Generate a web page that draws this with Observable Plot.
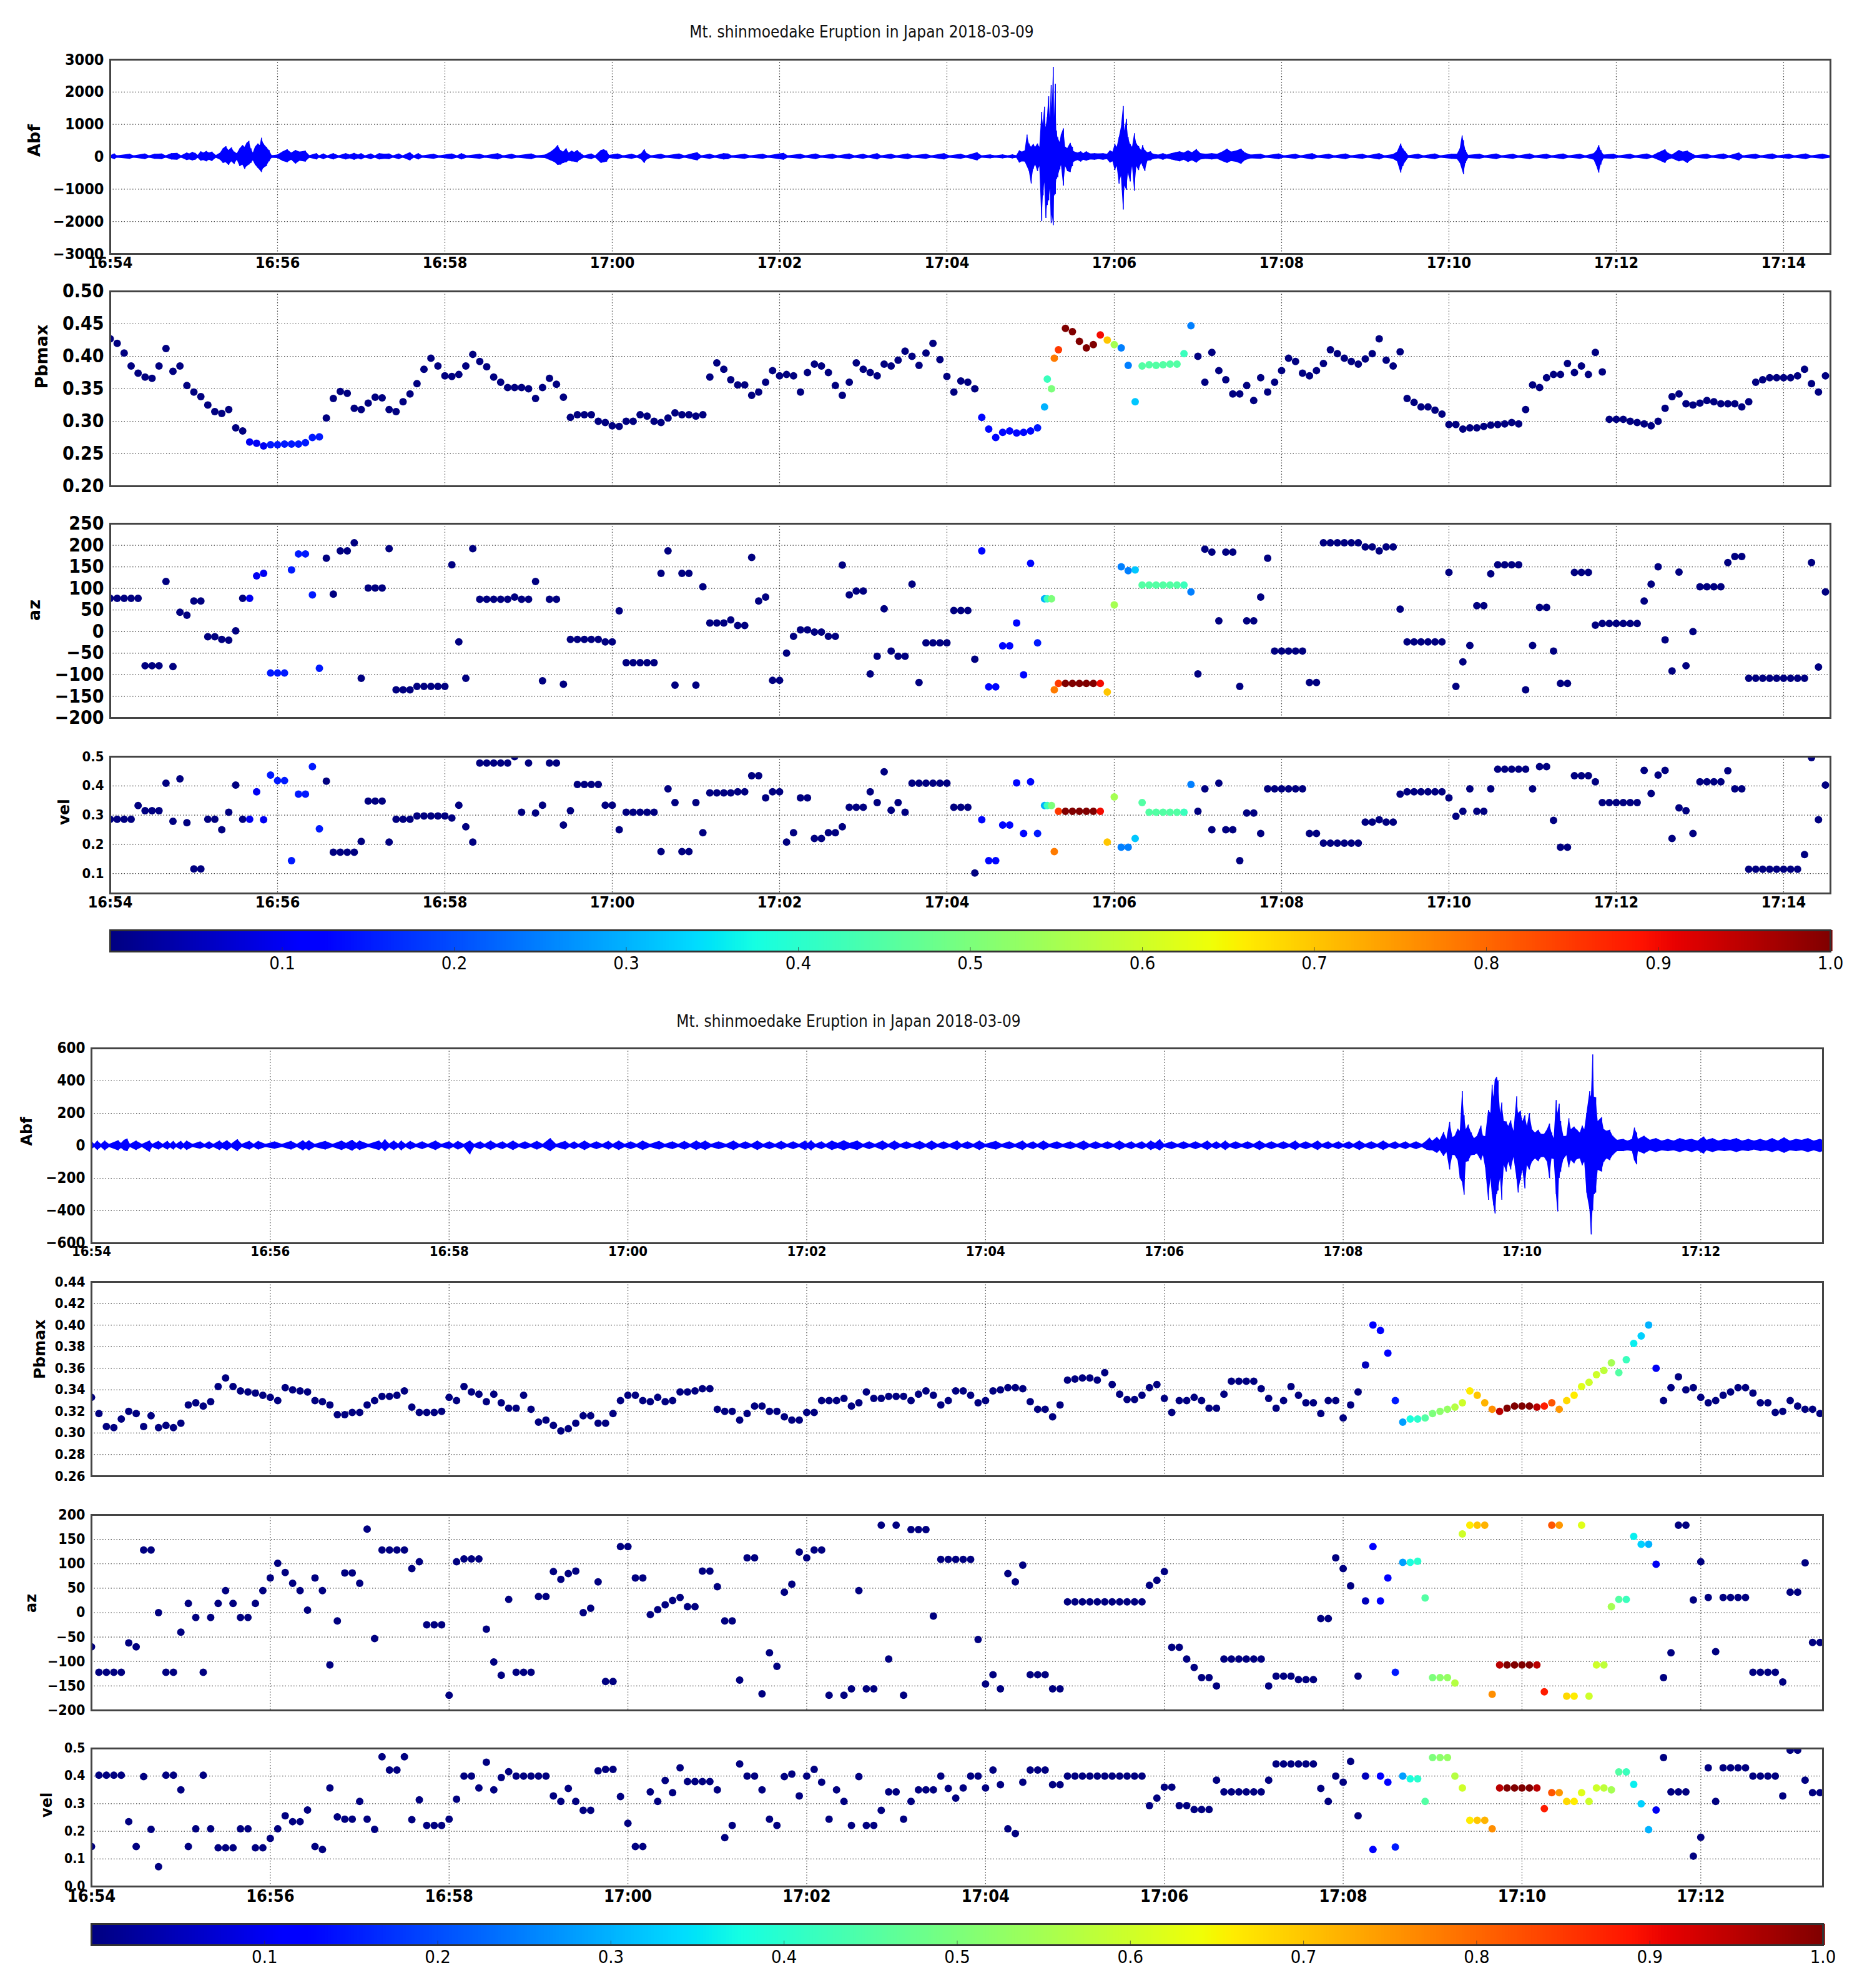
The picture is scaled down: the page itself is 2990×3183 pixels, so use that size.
<!DOCTYPE html>
<html><head><meta charset="utf-8">
<script src="https://cdn.jsdelivr.net/npm/d3@7"></script>
<script src="https://cdn.jsdelivr.net/npm/@observablehq/plot@0.6"></script>
<style>
body{margin:0;background:#fff;}
#chart{position:relative;width:2990px;height:3183px;background:#fff;overflow:hidden;}
.box{position:absolute;}
.title{position:absolute;transform:translate(-50%,-50%);font-family:"DejaVu Sans Condensed","DejaVu Sans",sans-serif;font-size:26px;color:#111;white-space:nowrap;}
</style></head>
<body><div id="chart"></div>
<script>
// ---------------- DATA ----------------
// time origin 16:54:00, samples every 5 s
const STEP = 5;
const title = "Mt. shinmoedake Eruption in Japan 2018-03-09";

// ---- figure 1 (top) ----
const pbTop = [
.427,.42,.405,.385,.374,.368,.366,.385,.412,.377,.385,.355,
.345,.338,.325,.315,.312,.318,.29,.285,.268,.266,.262,.264,
.264,.265,.265,.265,.267,.275,.276,.305,.335,.346,.343,.32,
.318,.328,.337,.336,.318,.315,.33,.342,.358,.38,.397,.385,
.37,.369,.372,.385,.403,.392,.384,.368,.36,.352,.352,.352,
.35,.335,.352,.366,.357,.337,.306,.31,.31,.31,.30,.298,
.293,.292,.30,.30,.31,.308,.30,.298,.305,.313,.31,.31,
.308,.31,.368,.39,.38,.364,.356,.356,.34,.345,.36,.378,
.37,.372,.37,.345,.375,.388,.385,.375,.355,.34,.36,.39,
.38,.375,.37,.388,.385,.394,.408,.40,.386,.405,.42,.395,
.369,.345,.362,.36,.35,.306,.288,.275,.283,.285,.282,.283,
.285,.29,.322,.35,.41,.443,.438,.423,.413,.418,.433,.425,
.418,.413,.386,.33,.385,.387,.386,.387,.388,.388,.404,.447,
.40,.36,.406,.378,.364,.342,.342,.355,.332,.367,.345,.36,
.378,.397,.392,.374,.37,.378,.389,.41,.404,.397,.392,.388,
.396,.404,.427,.394,.385,.407,.335,.329,.322,.322,.317,.311,
.295,.295,.288,.29,.29,.292,.294,.295,.296,.298,.296,.318,
.356,.352,.367,.372,.372,.389,.375,.385,.372,.406,.376,.303,
.303,.303,.30,.298,.296,.293,.30,.32,.338,.342,.327,.325,
.328,.332,.33,.327,.327,.327,.322,.33,.36,.364,.367,.367,
.367,.367,.37,.38,.358,.345,.37];
const azTop = [
77,77,77,77,77,-79,-79,-79,116,-81,45,38,
71,71,-12,-12,-18,-20,2,77,77,129,135,-96,
-96,-96,143,180,180,85,-85,170,87,187,187,206,
-108,101,101,101,192,-135,-135,-135,-127,-127,-127,-127,
-127,155,-24,-108,192,75,75,75,75,75,80,75,
75,116,-114,75,75,-122,-18,-18,-18,-18,-18,-24,
-24,48,-72,-72,-72,-72,-72,135,187,-124,135,135,
-124,104,20,20,20,27,14,14,172,71,80,-113,
-113,-50,-11,4,4,-1,-1,-11,-11,154,85,94,
94,-98,-57,53,-45,-57,-57,110,-118,-26,-26,-26,
-26,49,49,49,-64,187,-128,-128,-33,-33,20,-100,
158,-26,76,76,-120,-120,-120,-120,-120,-120,-120,-140,
62,150,141,143,108,108,108,108,108,108,108,92,
-98,191,184,25,184,184,-127,25,25,80,170,-45,
-45,-45,-45,-45,-118,-118,206,206,206,206,206,206,
196,196,187,196,196,52,-24,-24,-24,-24,-24,-24,
137,-127,-70,-32,60,60,134,155,155,155,155,-135,
-32,56,56,-45,-120,-120,137,137,137,15,19,19,
19,19,19,19,71,110,150,-19,-91,138,-79,0,
104,104,104,104,160,174,174,-108,-108,-108,-108,-108,
-108,-108,-108,-108,160,-82,92];
const velTop = [
.286,.286,.286,.286,.333,.315,.315,.315,.409,.279,.424,.274,
.116,.116,.286,.286,.25,.31,.403,.286,.286,.38,.284,.437,
.418,.418,.144,.372,.372,.466,.253,.416,.173,.173,.173,.173,
.21,.348,.348,.348,.208,.286,.286,.286,.297,.297,.297,.297,
.297,.29,.334,.26,.208,.478,.478,.478,.478,.478,.5,.31,
.478,.307,.334,.478,.478,.266,.315,.405,.405,.405,.405,.334,
.334,.25,.31,.31,.31,.31,.31,.175,.39,.343,.175,.175,
.343,.24,.376,.376,.376,.376,.38,.38,.435,.435,.359,.38,
.38,.208,.24,.359,.359,.22,.22,.24,.24,.26,.327,.327,
.327,.38,.343,.448,.317,.343,.31,.409,.409,.409,.409,.409,
.409,.327,.327,.327,.102,.284,.144,.144,.266,.266,.41,.237,
.414,.237,.333,.333,.313,.313,.313,.313,.313,.313,.313,.208,
.362,.19,.19,.22,.343,.31,.31,.31,.31,.31,.31,.405,
.313,.39,.25,.409,.25,.25,.144,.307,.307,.237,.39,.39,
.39,.39,.39,.39,.237,.237,.204,.204,.204,.204,.204,.204,
.276,.276,.284,.276,.276,.372,.38,.38,.38,.38,.38,.38,
.359,.296,.313,.39,.313,.313,.39,.457,.457,.457,.457,.457,
.39,.466,.466,.282,.19,.19,.435,.435,.435,.414,.343,.343,
.343,.343,.343,.343,.453,.374,.437,.453,.22,.325,.315,.237,
.414,.414,.414,.414,.452,.39,.39,.115,.115,.115,.115,.115,
.115,.115,.115,.165,.497,.284,.403];
const cTop = [
0,0,0,0,0,0,0,0,0,0,0,0,
0,0,0,0,0,0,0,0,.1,.1,.1,.15,
.15,.15,.15,.15,.15,.15,.15,0,0,0,0,0,
0,0,0,0,0,0,0,0,0,0,0,0,
0,0,0,0,0,0,0,0,0,0,0,0,
0,0,0,0,0,0,0,0,0,0,0,0,
0,0,0,0,0,0,0,0,0,0,0,0,
0,0,0,0,0,0,0,0,0,0,0,0,
0,0,0,0,0,0,0,0,0,0,0,0,
0,0,0,0,0,0,0,0,0,0,0,0,
0,0,0,0,0,.13,.13,.13,.13,.13,.13,.13,
.13,.15,.3,.5,.85,1,1,1,1,1,.9,.7,
.55,.25,.25,.32,.45,.45,.45,.45,.45,.45,.42,.25,
0,0,0,0,0,0,0,0,0,0,0,0,
0,0,0,0,0,0,0,0,0,0,0,0,
0,0,0,0,0,0,0,0,0,0,0,0,
0,0,0,0,0,0,0,0,0,0,0,0,
0,0,0,0,0,0,0,0,0,0,0,0,
0,0,0,0,0,0,0,0,0,0,0,0,
0,0,0,0,0,0,0,0,0,0,0,0,
0,0,0,0,0,0,0];
// off-grid points (seconds after 16:54)
const exTTop = [672, 677];
const exPbTop = [.365, .397];
const exAzTop = [76, -135];
const exVelTop = [.333, .175];
const exCTop = [.42, .78];
// Abf envelope: [seconds, upper, lower]
const abfTop = [[0,35,-35],[3,90,-80],[5,35,-35],[14,80,-70],[17,35,-35],[25,90,-80],[28,35,-35],[32,80,-70],[37,90,-80],[40,35,-35],[44,100,-90],[48,110,-100],[51,35,-35],[55,120,-110],[57,90,-90],[59,140,-120],[61,110,-100],[63,50,-45],[65,160,-130],[67,120,-110],[69,170,-150],[71,120,-100],[73,150,-140],[76,45,-40],
[79,120,-100],[81,250,-200],[83,320,-180],[85,200,-260],[87,280,-150],[89,150,-230],[91,100,-100],[93,250,-300],[95,350,-250],[96.5,300,-386],[98,420,-300],[99.5,483,-250],[101,250,-200],[102.5,120,-120],[104,300,-250],[106,400,-350],[107.5,350,-420],[108.5,580,-483],[110,400,-350],[112,300,-300],[114,200,-150],[116,40,-40],
[120,60,-50],[124,160,-140],[127,220,-180],[130,120,-100],[133,200,-220],[136,150,-130],[140,180,-160],[143,40,-40],[148,100,-90],[150,35,-35],[153,90,-80],[156,35,-35],[160,100,-90],[164,35,-35],[169,100,-90],[172,60,-60],[175,110,-100],[178,60,-60],[180,100,-90],[183,35,-35],[187,90,-80],[190,35,-35],[193,100,-90],[197,80,-70],[200,90,-80],[203,35,-35],[207,90,-80],[210,35,-35],[215,130,-120],[218,35,-35],[221,100,-90],[224,35,-35],
[232,80,-70],[236,35,-35],[245,90,-80],[249,35,-35],[252,100,-90],[256,35,-35],[265,80,-70],[269,35,-35],[278,100,-90],[282,35,-35],[288,80,-70],[292,35,-35],[302,90,-80],[306,35,-35],
[312,60,-50],[316,150,-120],[319,250,-180],[321,350,-260],[323,200,-250],[325,150,-200],[327,250,-180],[329,120,-130],[331,180,-150],[333,140,-160],[335,200,-180],[337,120,-100],[340,35,-35],[345,90,-80],[348,35,-35],[352,200,-200],[354,220,-180],[356,180,-160],[358,50,-50],[364,90,-80],[368,35,-35],[374,80,-70],[378,35,-35],[381,100,-90],[383,220,-200],[385,100,-90],[388,35,-35],[395,80,-70],[399,35,-35],[408,90,-80],[412,35,-35],[418,100,-90],[421,130,-120],[424,35,-35],[430,80,-70],[434,35,-35],[440,100,-90],[443,90,-80],[446,35,-35],[455,80,-70],[459,35,-35],[468,80,-70],[472,35,-35],[480,90,-80],[483,110,-100],[486,35,-35],[495,80,-70],[499,35,-35],[506,90,-80],[510,35,-35],[518,80,-70],[522,35,-35],[530,90,-80],[534,35,-35],[540,80,-70],[544,35,-35],[550,100,-90],[553,35,-35],[560,80,-70],[564,35,-35],[572,90,-80],[576,35,-35],[585,80,-70],[589,35,-35],[598,100,-90],[602,35,-35],[610,80,-70],[614,35,-35],
[621.7,130,-120],[625,35,-35],[631,65,-60],[635,35,-35],[640,65,-60],[644,35,-35],[647,65,-60],[650,40,-40],[652,190,-190],[654,150,-150],[656,190,-160],[657.5,675,-300],[659,400,-450],[660.5,300,-835],[662,385,-385],[663.5,300,-250],[665,400,-450],[666.5,300,-300],[668,1380,-2000],[669,1000,-1200],[670,1540,-800],[671,900,-1900],[672,1220,-1500],[673,1860,-1350],[674,1200,-1000],[674.8,2210,-2060],[675.5,1500,-1800],[676.3,2770,-2120],[677,1200,-1200],[677.8,2250,-1160],[678.6,800,-700],[679.5,600,-640],[681,450,-400],[682,680,-260],[683.6,870,-900],[685,300,-300],[686.5,260,-450],[688.5,420,-480],[690,300,-300],[691,160,-160],[694,120,-110],[696,160,-160],[698,100,-100],[700,160,-130],[703,90,-90],[706,100,-100],[709,90,-80],[712,100,-100],[715,80,-80],[717,190,-190],[719,150,-150],[720.5,385,-420],[722,300,-300],[723.5,600,-840],[725,900,-600],[726.5,1560,-1640],[727.5,800,-900],[728.8,1160,-1030],[730,600,-500],[731.5,385,-770],[733,300,-300],[734.5,720,-1060],[736,400,-300],[737.5,320,-420],[739.5,200,-200],[740.5,355,-300],[742,200,-450],[744,130,-130],[746,160,-120],[748,80,-80],[752,60,-60],[755,100,-100],[758,60,-60],[761,100,-90],[764,130,-120],[767,160,-150],[770,120,-100],[773,190,-170],[776,130,-120],[779,225,-190],[782,100,-90],[786,80,-70],[790,100,-90],[794,80,-70],[798,160,-150],[801,240,-200],[804,150,-140],[808,190,-170],[811,240,-225],[814,120,-110],[818,60,-60],
[825,80,-70],[829,35,-35],[838,90,-80],[842,35,-35],[850,80,-70],[854,35,-35],[862,100,-90],[866,35,-35],[874,80,-70],[878,35,-35],[886,90,-80],[890,35,-35],[898,80,-70],[902,35,-35],[910,100,-90],[914,35,-35],[920,70,-70],[923,150,-150],[925.5,400,-500],[927,250,-300],[929,150,-150],[931,40,-40],[938,80,-70],[942,35,-35],[950,90,-80],[954,35,-35],[962,80,-70],[966,80,-80],[968,250,-200],[969.5,650,-400],[970.5,500,-550],[972,200,-200],[974,50,-50],[982,80,-70],[986,35,-35],[994,90,-80],[998,35,-35],[1006,80,-70],[1010,35,-35],[1018,90,-80],[1022,35,-35],[1030,80,-70],[1034,35,-35],[1042,90,-80],[1046,35,-35],[1054,80,-70],[1058,35,-35],[1064,100,-100],[1066,200,-300],[1067.5,350,-500],[1069,200,-250],[1071,60,-60],[1078,80,-70],[1082,35,-35],[1090,80,-70],[1094,35,-35],[1102,90,-80],[1106,35,-35],[1110,120,-100],[1113,180,-160],[1115,220,-200],[1117,120,-100],[1120,60,-60],[1125,200,-150],[1128,150,-120],[1131,180,-200],[1134,100,-100],[1137,40,-40],[1145,80,-70],[1149,35,-35],[1157,90,-80],[1161,35,-35],[1168,120,-120],[1171,35,-35],[1180,80,-70],[1184,35,-35],[1192,90,-80],[1196,35,-35],[1204,80,-70],[1208,35,-35],[1216,90,-80],[1220,35,-35],[1228,80,-70],[1233.6,35,-35]];

// ---- figure 2 (bottom) ----
const pbBot = [
.333,.318,.306,.305,.313,.32,.318,.306,.316,.305,.307,.305,
.309,.326,.328,.325,.329,.343,.351,.343,.339,.338,.337,.335,
.333,.33,.342,.34,.339,.338,.33,.329,.326,.317,.317,.319,
.319,.326,.33,.334,.334,.335,.339,.324,.319,.319,.319,.32,
.333,.33,.343,.338,.336,.329,.336,.328,.323,.323,.335,.322,
.31,.312,.307,.302,.304,.309,.316,.316,.309,.309,.318,.33,
.335,.335,.33,.329,.333,.329,.33,.338,.338,.339,.341,.341,
.322,.32,.32,.312,.318,.325,.325,.32,.32,.315,.312,.312,
.319,.319,.33,.33,.33,.332,.325,.328,.338,.332,.332,.334,
.334,.334,.33,.336,.339,.335,.326,.33,.339,.339,.335,.328,
.33,.339,.34,.342,.342,.341,.329,.322,.322,.315,.326,.349,
.35,.351,.351,.349,.356,.345,.336,.331,.331,.335,.342,.345,
.332,.319,.33,.33,.333,.33,.323,.323,.336,.348,.348,.348,
.348,.341,.332,.323,.33,.343,.335,.328,.328,.318,.33,.33,
.314,.326,.338,.363,.40,.395,.374,.33,.31,.313,.313,.314,
.318,.32,.322,.324,.328,.339,.335,.328,.322,.32,.323,.325,
.325,.325,.324,.325,.328,.322,.33,.335,.343,.347,.354,.358,
.365,.356,.368,.383,.39,.40,.36,.33,.342,.352,.34,.342,
.333,.328,.33,.335,.338,.342,.342,.337,.328,.328,.319,.32,
.33,.325,.322,.322,.318];
const azBot = [
-70,-122,-122,-122,-122,-62,-70,128,128,0,-122,-122,
-40,19,-10,-122,-10,19,45,19,-10,-10,19,45,
71,101,82,60,45,5,71,45,-107,-17,81,81,
60,171,-53,128,128,128,128,90,104,-25,-25,-25,
-169,104,110,110,110,-34,-101,-128,27,-122,-122,-122,
33,33,84,68,80,85,0,9,63,-141,-141,135,
135,71,71,-4,6,16,25,31,12,12,85,85,
53,-17,-17,-138,112,112,-166,-82,-110,42,58,124,
112,128,128,-169,null,-169,-156,45,-156,-156,179,-95,
179,-169,170,170,170,-7,109,109,109,109,109,-55,
-146,-127,-156,80,63,97,-127,-127,-127,-156,-156,22,
22,22,22,22,22,22,22,22,22,22,56,66,
84,-71,-71,-95,-112,-133,-133,-150,-95,-95,-95,-95,
-95,-95,-150,-130,-130,-130,-137,-137,-137,-12,-12,112,
90,55,-130,24,135,24,71,-122,103,103,105,30,
-133,-133,-133,-144,161,179,179,179,-167,-107,-107,-107,
-107,-107,-107,-162,179,179,-171,-171,179,-171,-107,-107,
12,27,27,156,140,140,99,-133,-82,179,179,26,
104,31,-80,31,31,31,31,-122,-122,-122,-122,-142,
42,42,102,-61,-61];
const velBot = [
.145,.403,.403,.403,.403,.235,.145,.398,.207,.072,.403,.403,
.35,.145,.209,.403,.209,.14,.14,.14,.209,.209,.14,.14,
.174,.209,.256,.235,.235,.277,.145,.134,.357,.252,.244,.244,
.308,.244,.207,.47,.422,.422,.47,.242,.314,.221,.221,.221,
.244,.316,.40,.40,.357,.45,.35,.395,.416,.40,.40,.40,
.40,.40,.328,.308,.355,.308,.276,.276,.419,.424,.424,.326,
.229,.145,.145,.343,.308,.384,.34,.43,.38,.38,.38,.38,
.35,.177,.221,.444,.40,.40,.35,.244,.221,.398,.407,.328,
.40,.424,.378,.244,.35,.308,.221,.398,.221,.221,.276,.343,
.343,.244,.308,.35,.35,.35,.40,.355,.32,.357,.40,.40,
.357,.422,.369,.209,.192,.378,.422,.422,.422,.369,.369,.40,
.40,.40,.40,.40,.40,.40,.40,.40,.40,.40,.293,.32,
.36,.36,.293,.293,.279,.279,.279,.385,.343,.343,.343,.343,
.343,.343,.385,.444,.444,.444,.444,.444,.444,.355,.308,.40,
.378,.453,.256,.40,.134,.40,.378,.143,.40,.39,.39,.308,
.467,.467,.467,.40,.357,.24,.24,.24,.209,.357,.357,.357,
.357,.357,.357,.282,.34,.34,.308,.308,.34,.308,.357,.357,
.35,.415,.415,.37,.30,.206,.277,.467,.343,.343,.343,.11,
.178,.43,.308,.43,.43,.43,.43,.40,.40,.40,.40,.328,
.494,.494,.385,.34,.34];
const cBot = [
0,0,0,0,0,0,0,0,0,0,0,0,
0,0,0,0,0,0,0,0,0,0,0,0,
0,0,0,0,0,0,0,0,0,0,0,0,
0,0,0,0,0,0,0,0,0,0,0,0,
0,0,0,0,0,0,0,0,0,0,0,0,
0,0,0,0,0,0,0,0,0,0,0,0,
0,0,0,0,0,0,0,0,0,0,0,0,
0,0,0,0,0,0,0,0,0,0,0,0,
0,0,0,0,0,0,0,0,0,0,0,0,
0,0,0,0,0,0,0,0,0,0,0,0,
0,0,0,0,0,0,0,0,0,0,0,0,
0,0,0,0,0,0,0,0,0,0,0,0,
0,0,0,0,0,0,0,0,0,0,0,0,
0,0,0,0,0,0,0,0,0,0,0,0,
0,0,0,.05,.12,.12,.12,.15,.28,.38,.4,.45,
.5,.52,.53,.57,.6,.66,.7,.72,.76,.95,1,1,
1,1,.95,.88,.82,.75,.68,.66,.62,.6,.6,.58,
.55,.45,.42,.36,.33,.3,.1,0,0,0,0,0,
0,0,0,0,0,0,0,0,0,0,0,0,
0,0,0,0,0];
const abfBot = [[0,30,-25],[2,10,-10],[4,30,-28],[6.5,10,-10],[9,30,-30],[12,10,-10],[18,32,-30],[20,15,-15],[22,35,-30],[24,42,-35],[26,10,-10],[30,30,-28],[34,10,-10],[39,30,-38],[41,10,-10],[45,28,-25],[48,10,-10],[51,28,-25],[53,12,-12],[55,28,-25],[57,10,-10],[60,28,-25],[62,12,-12],[64,30,-28],[68,10,-10],[73,25,-20],[76,10,-10],[79,25,-22],[82,10,-10],[86,30,-28],[88,15,-15],[91,32,-30],[94,12,-12],[98,38,-35],[101,10,-10],[106,28,-25],[109,10,-10],[112,28,-25],[117,10,-10],[123,25,-20],[128,10,-10],[134,28,-25],[138,10,-10],[142,32,-30],[144,18,-18],[146,32,-30],[150,10,-10],[157,28,-25],[162,10,-10],[168,30,-28],[171,15,-15],[175,35,-32],[178,15,-15],[180,30,-28],[186,10,-10],[193,30,-28],[195,15,-15],[197,38,-35],[200,12,-12],[203,30,-28],[206,12,-12],[208,30,-30],[211,10,-10],
[214,28,-25],[218,10,-10],[222,25,-22],[226,10,-10],[231,30,-28],[235,10,-10],[240,25,-22],[243,10,-10],[246,28,-25],[250,10,-10],[254,30,-55],[257,10,-10],[261,25,-22],[264,10,-10],[268,30,-28],[272,10,-10],[276,25,-22],[279,10,-10],[283,30,-28],[287,10,-10],[291,25,-22],[295,10,-10],[299,28,-25],[303,10,-10],[308,45,-35],[312,10,-10],[318,28,-25],[321,10,-10],[324,25,-22],[327,10,-10],[331,30,-28],[335,10,-10],[339,25,-22],[343,10,-10],[347,28,-25],[350,10,-10],[354,30,-28],[358,10,-10],[362,25,-22],[366,10,-10],[370,30,-28],[375,10,-10],[381,28,-25],[385,10,-10],[390,25,-22],[394,10,-10],[398,28,-25],[402,10,-10],[406,30,-28],[409,15,-15],[412,30,-28],[416,10,-10],[421,25,-22],[426,10,-10],[431,30,-28],[435,10,-10],[439,25,-22],[443,10,-10],[447,30,-28],[451,10,-10],[455,25,-22],[459,10,-10],[463,28,-25],[467,10,-10],[471,25,-22],[475,10,-10],[479,30,-28],[481,15,-15],[483,32,-30],[486,10,-10],[490,25,-22],[493,10,-10],[497,30,-28],[501,15,-15],[505,32,-30],[509,15,-15],[514,30,-28],[518,10,-10],[522,25,-22],[526,10,-10],[531,30,-28],[535,10,-10],[539,30,-28],[543,10,-10],[547,25,-22],[551,10,-10],[556,28,-25],[560,10,-10],[564,30,-28],[568,10,-10],[572,25,-22],[576,10,-10],[581,30,-28],[584,10,-10],[588,25,-22],[592,10,-10],[596,30,-28],[600,10,-10],[607,28,-25],[611,10,-10],[616,25,-22],[620,10,-10],[625,30,-28],[628,10,-10],[632,25,-22],[635,10,-10],[639,30,-28],[643,10,-10],[648,25,-22],[652,10,-10],[657,25,-22],[661,10,-10],[666,30,-28],[670,10,-10],[674,25,-22],[678,10,-10],[682,25,-22],[686,10,-10],[690,30,-28],[694,10,-10],[698,25,-22],[701,10,-10],[705,25,-22],[708,10,-10],[711,30,-28],[714,15,-15],[717,38,-30],[720,10,-10],[725,25,-22],[729,10,-10],[733,25,-22],[737,10,-10],[741,25,-22],[745,10,-10],[749,30,-28],[752,10,-10],[755,25,-22],[758,10,-10],[761,30,-28],[764,10,-10],[768,25,-22],[772,10,-10],[776,25,-22],[780,10,-10],[784,30,-28],[788,10,-10],[792,25,-22],[796,10,-10],[800,25,-22],[804,10,-10],[808,30,-28],[811,10,-10],[815,25,-22],[819,10,-10],[823,30,-28],[826,10,-10],[830,25,-22],[833,10,-10],[837,25,-22],[840,10,-10],[844,25,-22],[847,10,-10],[851,30,-28],[855,10,-10],[859,25,-22],[863,10,-10],[867,30,-28],[871,10,-10],[875,25,-22],[878,10,-10],[882,25,-22],[885,10,-10],[889,25,-22],[893,10,-10],
[896,30,-25],[898,48,-30],[900,30,-30],[903,52,-45],[905,35,-30],[907.5,84,-65],[909.5,40,-40],[911.5,146,-148],[913.5,52,-58],[915,60,-60],[917,103,-90],[918.5,90,-200],[920,335,-225],[921.2,187,-303],[922.5,100,-100],[924,129,-97],[926,80,-60],[928,45,-58],[930,60,-50],[932.5,122,-90],[934,60,-60],[935.5,58,-135],[937.5,219,-335],[939,200,-200],[940,374,-300],[941,300,-368],[942,406,-419],[943,422,-300],[944,400,-277],[945.5,200,-200],[946.5,264,-335],[948,150,-120],[949.5,148,-161],[951,120,-100],[952.5,155,-148],[954.5,90,-71],[956.5,303,-200],[957.5,200,-290],[959,213,-213],[960.5,150,-150],[962,187,-264],[963.5,120,-120],[965,200,-148],[967,97,-97],[969,80,-80],[971,97,-97],[973,71,-71],[975,71,-71],[977,100,-100],[978.5,135,-200],[980,80,-80],[981.5,45,-84],[983,280,-300],[984,200,-406],[985,258,-200],[986,150,-161],[988,58,-84],[990,60,-60],[991.5,168,-135],[993,100,-90],[995,116,-110],[997,97,-84],[999,80,-80],[1000.5,122,-122],[1002,100,-100],[1003.5,200,-290],[1005.5,335,-393],[1006.5,300,-548],[1007.5,561,-400],[1008.5,300,-300],[1009.5,297,-290],[1011,150,-150],[1013.5,174,-161],[1015,100,-100],[1017,90,-80],[1019,97,-90],[1021,60,-60],[1024,35,-35],[1028,40,-35],[1031,30,-30],[1034,40,-35],[1035.5,110,-90],[1037,80,-116],
[1038,40,-35],[1042,60,-50],[1046,35,-30],[1050,45,-40],[1054,30,-30],[1058,40,-35],[1062,30,-30],[1066,45,-40],[1070,35,-30],[1074,40,-40],[1078,30,-30],[1082,55,-50],[1084,35,-30],[1088,45,-40],[1092,30,-30],[1096,40,-35],[1100,35,-30],[1104,45,-40],[1108,30,-30],[1112,40,-35],[1116,30,-25],[1120,40,-35],[1124,30,-30],[1128,45,-40],[1132,30,-30],[1136,50,-45],[1140,30,-30],[1144,40,-35],[1148,35,-30],[1152,45,-40],[1156,30,-30],[1160,40,-40],[1162,35,-35]];

// ---- tick values ----
const xTickMinTop = [0,2,4,6,8,10,12,14,16,18,20];
const xTickMinBot = [0,2,4,6,8,10,12,14,16,18];
const abfTicksTop = [-3000,-2000,-1000,0,1000,2000,3000];
const pbTicksTop = [.20,.25,.30,.35,.40,.45,.50];
const azTicksTop = [-200,-150,-100,-50,0,50,100,150,200,250];
const velTicksTop = [.1,.2,.3,.4,.5];
const abfTicksBot = [-600,-400,-200,0,200,400,600];
const pbTicksBot = [.26,.28,.30,.32,.34,.36,.38,.40,.42,.44];
const azTicksBot = [-200,-150,-100,-50,0,50,100,150,200];
const velTicksBot = [0,.1,.2,.3,.4,.5];
const cbTicks = [.1,.2,.3,.4,.5,.6,.7,.8,.9,1.0];

// ---------------- RENDER ----------------
const T0 = Date.UTC(2018, 2, 9, 16, 54, 0);
const D = s => new Date(T0 + s * 1000);
const FONT = '"DejaVu Sans Condensed","DejaVu Sans",sans-serif';
const BLUE = "#0000ff";

function jet(t) {
  t = Math.max(0, Math.min(1, t));
  const seg = pts => { for (let i = 1; i < pts.length; i++) if (t <= pts[i][0]) { const [x0,y0] = pts[i-1], [x1,y1] = pts[i]; return y0 + (y1-y0)*(t-x0)/(x1-x0); } return pts[pts.length-1][1]; };
  const r = seg([[0,0],[0.35,0],[0.66,1],[0.89,1],[1,0.5]]);
  const g = seg([[0,0],[0.125,0],[0.375,1],[0.64,1],[0.91,0],[1,0]]);
  const b = seg([[0,0.5],[0.11,1],[0.34,1],[0.65,0],[1,0]]);
  return `rgb(${Math.round(r*255)},${Math.round(g*255)},${Math.round(b*255)})`;
}
const jetStops = [0,.11,.125,.34,.35,.375,.64,.65,.66,.89,.91,1];
const COLOR = {type: "linear", domain: jetStops, range: jetStops.map(jet), interpolate: "rgb", clamp: true};

function rows(pb, az, vel, c, exT = [], exPb = [], exAz = [], exVel = [], exC = []) {
  const out = pb.map((p, i) => ({d: D(i * STEP), pb: p, az: az[i], vel: vel[i], c: c[i]}));
  exT.forEach((t, i) => out.push({d: D(t), pb: exPb[i], az: exAz[i], vel: exVel[i], c: exC[i]}));
  return out.sort((a, b) => a.d - b.d);
}
const topRows = rows(pbTop, azTop, velTop, cTop, exTTop, exPbTop, exAzTop, exVelTop, exCTop);
const botRows = rows(pbBot, azBot, velBot, cBot);

const chart = document.getElementById("chart");
function place(el, left, top) {
  const w = document.createElement("div");
  w.className = "box"; w.style.left = left + "px"; w.style.top = top + "px";
  w.appendChild(el); chart.appendChild(w);
}

function panel(o) {
  const ml = 170, mr = 30, mt = 20, mb = 70;
  const xticks = o.xMin.map(m => D(m * 60));
  const marks = [
    Plot.gridX(xticks, {stroke: "#000", strokeOpacity: 0.75, strokeWidth: 1.2, strokeDasharray: "1.5,3"}),
    Plot.gridY(o.yticks, {stroke: "#000", strokeOpacity: 0.75, strokeWidth: 1.2, strokeDasharray: "1.5,3"}),
    ...o.marks,
    Plot.frame({stroke: "#444", strokeWidth: 3}),
    Plot.axisY(o.yticks, {tickSize: 0, tickPadding: 10, tickFormat: o.yfmt, fontSize: o.yfs, fontWeight: "bold", fontFamily: FONT, label: null}),
    Plot.text([o.label], {text: d => d, frameAnchor: "left", dx: o.labelDx, rotate: -90, fontSize: o.labelFs, fontWeight: "bold", fontFamily: "DejaVu Sans", fill: "#000"})
  ];
  if (o.showX) marks.push(Plot.axisX(xticks, {tickSize: 0, tickPadding: 5, tickFormat: d3.utcFormat("%H:%M"), fontSize: o.xfs, fontWeight: "bold", fontFamily: FONT, label: null}));
  const svg = Plot.plot({
    width: o.fw + ml + mr, height: o.h + mt + mb,
    marginLeft: ml, marginRight: mr, marginTop: mt, marginBottom: mb,
    style: {fontFamily: FONT, background: "transparent", overflow: "visible", color: "#000"},
    x: {type: "utc", domain: [D(0), D(o.xEnd)], axis: o.showX ? undefined : null},
    y: {domain: o.ydom},
    color: COLOR,
    marks
  });
  place(svg, o.fx - ml, o.top - mt);
}

function colorbar(o) {
  const ml = 170, mr = 30, mt = 10, mb = 60, N = 600;
  const steps = d3.range(N).map(i => i / N);
  const svg = Plot.plot({
    width: o.fw + ml + mr, height: o.h + mt + mb,
    marginLeft: ml, marginRight: mr, marginTop: mt, marginBottom: mb,
    style: {fontFamily: FONT, background: "transparent", overflow: "visible", color: "#000"},
    x: {domain: [0, 1]},
    y: {domain: [0, 1], axis: null},
    color: COLOR,
    marks: [
      Plot.rect(steps, {x1: d => d, x2: d => d + 1.8 / N, y1: 0, y2: 1, fill: d => d + 0.5 / N}),
      Plot.ruleX(cbTicks, {y1: 0, y2: 0.2, stroke: "#333", strokeOpacity: 0.7}),
      Plot.frame({stroke: "#333", strokeWidth: 3}),
      Plot.axisX(cbTicks, {tickSize: 0, tickPadding: 8, tickFormat: d3.format(".1f"), fontSize: o.fs, fontWeight: "normal", fontFamily: FONT, label: null})
    ]
  });
  place(svg, o.fx - ml, o.top - mt);
}

function waveMarks(abf) {
  return [
    Plot.areaY(abf, {x: d => D(d[0]), y1: d => d[2], y2: d => d[1], fill: BLUE, curve: "linear"}),
    Plot.ruleX(abf, {x: d => D(d[0]), y1: d => d[2], y2: d => d[1], stroke: BLUE, strokeWidth: 1.5}),
    Plot.ruleY([0], {stroke: BLUE, strokeWidth: 2.5})
  ];
}
const dotOpts = (key) => ({x: "d", y: key, fill: "c", r: 6, clip: true});

function addTitle(text, cx, cy) {
  const t = document.createElement("div");
  t.className = "title"; t.textContent = text;
  t.style.left = cx + "px"; t.style.top = cy + "px";
  chart.appendChild(t);
}

// ---- top figure ----
{
  const fx = 176, fw = 2755, xEnd = 1233.6;
  addTitle(title, 1380, 51);
  panel({fx, fw, top: 95, h: 311, xEnd, xMin: xTickMinTop, ydom: [-3000, 3000], yticks: abfTicksTop, yfmt: d3.format("d"), yfs: 25, showX: true, xfs: 25, label: "Abf", labelDx: -121, labelFs: 27, marks: waveMarks(abfTop)});
  panel({fx, fw, top: 466, h: 312, xEnd, xMin: xTickMinTop, ydom: [0.2, 0.5], yticks: pbTicksTop, yfmt: d3.format(".2f"), yfs: 30, showX: false, label: "Pbmax", labelDx: -109, labelFs: 27, marks: [Plot.dot(topRows, dotOpts("pb"))]});
  panel({fx, fw, top: 838, h: 311, xEnd, xMin: xTickMinTop, ydom: [-200, 250], yticks: azTicksTop, yfmt: d3.format("d"), yfs: 30, showX: false, label: "az", labelDx: -121, labelFs: 27, marks: [Plot.dot(topRows, dotOpts("az"))]});
  panel({fx, fw, top: 1211, h: 219, xEnd, xMin: xTickMinTop, ydom: [0.032, 0.5], yticks: velTicksTop, yfmt: d3.format(".1f"), yfs: 22, showX: true, xfs: 25, label: "vel", labelDx: -74, labelFs: 25, marks: [Plot.dot(topRows, dotOpts("vel"))]});
  colorbar({fx, fw, top: 1489, h: 34, fs: 29});
}
// ---- bottom figure ----
{
  const fx = 146, fw = 2773, xEnd = 1162;
  addTitle(title, 1359, 1635);
  panel({fx, fw, top: 1678, h: 312, xEnd, xMin: xTickMinBot, ydom: [-600, 600], yticks: abfTicksBot, yfmt: d3.format("d"), yfs: 24, showX: true, xfs: 22, label: "Abf", labelDx: -103, labelFs: 24, marks: waveMarks(abfBot)});
  panel({fx, fw, top: 2052, h: 311, xEnd, xMin: xTickMinBot, ydom: [0.26, 0.44], yticks: pbTicksBot, yfmt: d3.format(".2f"), yfs: 22, showX: false, label: "Pbmax", labelDx: -83, labelFs: 25, marks: [Plot.dot(botRows, dotOpts("pb"))]});
  panel({fx, fw, top: 2425, h: 313, xEnd, xMin: xTickMinBot, ydom: [-200, 200], yticks: azTicksBot, yfmt: d3.format("d"), yfs: 23, showX: false, label: "az", labelDx: -96, labelFs: 24, marks: [Plot.dot(botRows, dotOpts("az"))]});
  panel({fx, fw, top: 2799, h: 221, xEnd, xMin: xTickMinBot, ydom: [0, 0.5], yticks: velTicksBot, yfmt: d3.format(".1f"), yfs: 21, showX: true, xfs: 27, label: "vel", labelDx: -71, labelFs: 24, marks: [Plot.dot(botRows, dotOpts("vel"))]});
  colorbar({fx, fw, top: 3080, h: 34, fs: 29});
}
</script>
</body></html>
